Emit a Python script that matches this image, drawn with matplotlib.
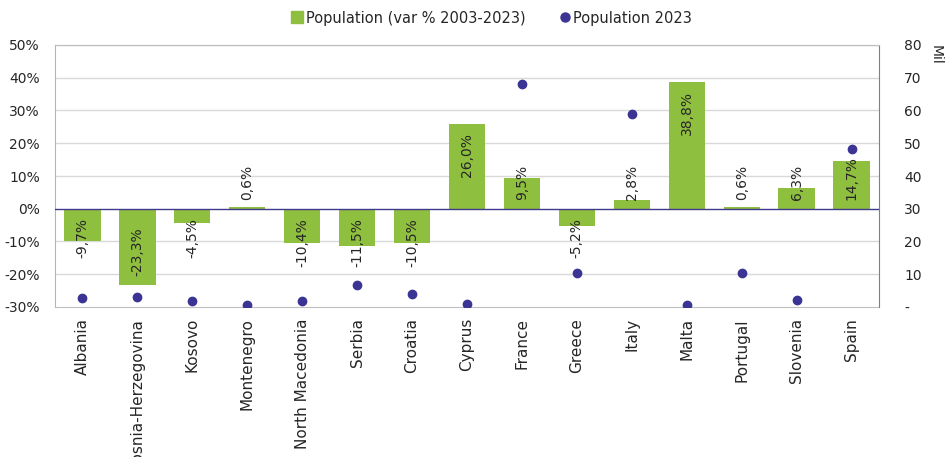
import matplotlib
matplotlib.use("Agg")
import matplotlib.pyplot as plt
from matplotlib.lines import Line2D

countries = ["Albania", "Bosnia-Herzegovina", "Kosovo", "Montenegro", "North Macedonia",
             "Serbia", "Croatia", "Cyprus", "France", "Greece", "Italy", "Malta",
             "Portugal", "Slovenia", "Spain"]
var_pct = [-9.7, -23.3, -4.5, 0.6, -10.4, -11.5, -10.5, 26.0, 9.5, -5.2, 2.8, 38.8, 0.6, 6.3, 14.7]
pop_2023 = [2.8, 3.2, 1.7, 0.6, 1.8, 6.6, 3.9, 0.9, 68.2, 10.4, 58.9, 0.5, 10.5, 2.1, 48.3]
left_ticks = [-30, -20, -10, 0, 10, 20, 30, 40, 50]
right_ticks = [0, 10, 20, 30, 40, 50, 60, 70, 80]

GREEN = "#8FBF3E"
DOT = "#3B3494"
ZERO = "#3F3A8C"
GRID = "#D9D9D9"
TXT = "#262626"

plt.rcParams["font.family"] = ["DejaVu Sans"]
plt.rcParams["font.size"] = 10

fig = plt.figure(figsize=(9.48, 4.57), dpi=100)
ax = fig.add_axes([55 / 948, 1 - 307 / 457, (879 - 55) / 948, (307 - 45) / 457])
x = list(range(len(countries)))

ax.set_ylim(-30, 50)
ax.set_xlim(-0.5, len(countries) - 0.5)
ax.set_yticks(left_ticks)
ax.set_yticklabels([f"{t}%" for t in left_ticks], color=TXT)
for t in left_ticks:
    if t not in (0, -30):
        ax.axhline(t, color=GRID, lw=1.0, zorder=0)
ax.bar(x, var_pct, width=0.66, color=GREEN, zorder=2)
ax.axhline(0, color=ZERO, lw=1.0, zorder=3)

ax.set_xticks(x)
ax.set_xticklabels(countries, rotation=90, color=TXT, fontsize=11)
ax.tick_params(axis="x", length=0, pad=8)
ax.tick_params(axis="y", length=0, pad=11)
ax.spines["top"].set_color("#BFBFBF")
ax.spines["left"].set_color("#9DBBD0")
ax.spines["right"].set_visible(False)
ax.spines["bottom"].set_color("#BFBFBF")

ax2 = ax.twinx()
ax2.set_ylim(0, 80)
ax2.set_yticks(right_ticks)
ax2.set_yticklabels(["-" if t == 0 else str(t) for t in right_ticks], color=TXT)
ax2.tick_params(axis="y", length=0, pad=18)
for lab in ax2.get_yticklabels():
    lab.set_horizontalalignment("left")
ax2.spines["right"].set_color("#4A8FC0")
ax2.spines["left"].set_visible(False)
ax2.spines["top"].set_color("#BFBFBF")
ax2.spines["bottom"].set_visible(False)
ax2.scatter(x, pop_2023, s=36, color=DOT, zorder=4)

# value labels inside bar ends, pushed off the zero line when the bar is too short
pad_pt = 6.5
labels = []
for i, v in enumerate(var_pct):
    txt = f"{v:.1f}%".replace(".", ",")
    if v >= 0:
        t = ax.annotate(txt, (i, v), xytext=(0, -pad_pt), textcoords="offset points",
                        rotation=90, ha="center", va="top", color=TXT, zorder=5)
    else:
        t = ax.annotate(txt, (i, v), xytext=(0, pad_pt), textcoords="offset points",
                        rotation=90, ha="center", va="bottom", color=TXT, zorder=5)
    labels.append(t)

fig.canvas.draw()
zero_y = ax.transData.transform((0, 0))[1]
pad_px = pad_pt * fig.dpi / 72
for i, (t, v) in enumerate(zip(labels, var_pct)):
    bb = t.get_window_extent()
    if v >= 0 and bb.y0 < zero_y + pad_px:
        t.xy = (i, 0)
        t.set_position((0, pad_pt))
        t.set_va("bottom")
    elif v < 0 and bb.y1 > zero_y - pad_px:
        t.xy = (i, 0)
        t.set_position((0, -pad_pt))
        t.set_va("top")

fig.text(936 / 948, 1 - 45 / 457, "Mil", rotation=270, ha="center", va="top", color=TXT)

handles = [
    Line2D([], [], marker="s", ls="none", color=GREEN, markersize=8),
    Line2D([], [], marker="o", ls="none", color=DOT, markersize=6.5),
]
fig.legend(handles, ["Population (var % 2003-2023)", "Population 2023"], ncol=2,
           loc="center", bbox_to_anchor=(491 / 948, 1 - 18 / 457), frameon=False,
           handletextpad=0.1, columnspacing=2.2, handlelength=1.0, fontsize=10.5,
           labelcolor=TXT)

fig.savefig("out.png", dpi=100)
